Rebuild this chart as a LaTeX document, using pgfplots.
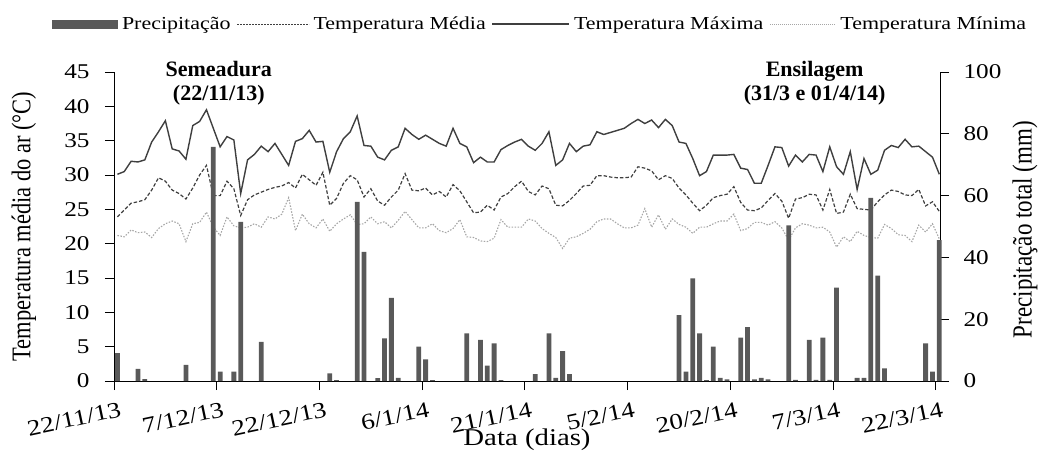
\documentclass[border=0pt]{standalone}
\usepackage{fontspec}
\setmainfont{Liberation Serif}[FakeStretch=1.2]
\newfontfamily\plainserif{Liberation Serif}
\usepackage{graphicx}
\usepackage{pgfplots}
\usepackage{pgfplotstable}
\pgfplotsset{compat=1.18}
\definecolor{barc}{HTML}{595959}
\definecolor{maxc}{HTML}{3F3F3F}
\definecolor{medc}{HTML}{3F3F3F}
\definecolor{minc}{HTML}{A6A6A6}
\pgfplotsset{
  legbar/.style={legend image code/.code={\fill[barc] (0pt,-4.5pt) rectangle (66pt,4.5pt);}},
  legline/.style={legend image code/.code={\draw[##1] (0pt,0pt) -- (#1,0pt);}},
}

\pgfplotstableread{
i tmax tmed tmin
0 30.1 23.9 21.2
1 30.5 24.9 21.0
2 32.0 25.9 22.0
3 31.9 26.1 21.6
4 32.2 26.4 21.7
5 34.8 27.8 20.9
6 36.3 29.6 22.2
7 37.9 29.1 22.9
8 33.8 27.8 23.3
9 33.5 27.3 22.9
10 32.3 26.5 20.3
11 37.2 28.1 22.9
12 37.8 30.0 23.1
13 39.5 31.4 24.6
14 36.8 27.0 22.4
15 34.1 27.0 21.2
16 35.6 29.1 23.9
17 35.1 28.0 22.6
18 27.3 24.1 22.3
19 32.2 26.4 22.4
20 33.0 27.1 22.9
21 34.2 27.5 22.4
22 33.4 27.9 23.9
23 34.6 28.2 23.6
24 33.0 28.4 24.3
25 31.4 28.9 26.7
26 34.9 28.1 21.9
27 35.3 30.1 24.3
28 36.5 29.3 22.9
29 34.8 28.5 22.3
30 34.9 30.4 23.6
31 30.4 25.6 21.8
32 33.4 26.6 22.9
33 35.3 28.8 23.6
34 36.3 29.9 24.2
35 38.6 29.3 22.8
36 34.3 26.8 22.9
37 34.2 28.0 23.9
38 32.6 26.2 22.9
39 32.2 25.6 23.2
40 33.6 26.8 22.3
41 34.1 27.8 23.4
42 36.8 30.2 24.7
43 35.9 27.8 23.5
44 35.2 27.7 22.3
45 35.8 28.1 22.3
46 35.2 27.1 22.9
47 34.6 27.6 21.9
48 34.2 26.8 21.6
49 36.8 28.6 22.2
50 34.6 27.7 23.5
51 34.1 26.1 21.0
52 31.8 24.5 20.9
53 32.6 24.6 20.4
54 31.9 25.6 20.3
55 31.9 24.9 20.8
56 33.7 26.8 23.5
57 34.3 27.3 22.4
58 34.8 28.3 22.4
59 35.2 29.1 22.4
60 34.2 27.6 23.6
61 33.6 27.1 23.3
62 34.6 28.4 22.2
63 36.3 28.0 21.5
64 31.4 25.6 20.9
65 32.2 25.5 19.3
66 34.6 26.3 20.8
67 33.4 27.3 21.0
68 34.2 28.4 21.5
69 34.4 28.5 22.1
70 36.3 29.9 23.2
71 35.9 29.9 23.6
72 36.2 29.7 23.6
73 36.5 29.6 22.9
74 36.8 29.6 22.3
75 37.5 29.7 22.3
76 38.1 31.2 22.7
77 37.5 31.0 25.1
78 38.0 30.6 22.4
79 36.9 29.3 24.2
80 38.1 29.9 22.1
81 37.2 29.5 23.6
82 34.8 28.1 22.8
83 34.6 27.1 22.4
84 32.4 25.9 21.5
85 29.9 24.8 22.4
86 30.5 25.6 22.4
87 32.9 26.7 22.9
88 32.9 27.0 23.3
89 32.9 27.2 23.3
90 33.0 28.3 24.3
91 31.0 26.0 21.9
92 30.8 24.9 22.2
93 28.8 24.8 23.1
94 28.8 25.2 23.1
95 31.4 26.3 22.7
96 34.1 27.3 23.2
97 34.0 26.2 22.3
98 31.3 23.7 20.5
99 32.9 26.5 22.3
100 31.9 26.7 22.9
101 33.0 27.2 22.7
102 32.9 27.1 22.3
103 30.5 24.9 22.4
104 34.1 27.9 21.7
105 31.2 24.4 19.5
106 30.1 24.6 21.0
107 33.4 27.2 20.3
108 27.9 25.1 21.8
109 32.4 25.0 21.2
110 30.1 24.9 20.9
111 30.7 26.1 20.8
112 33.6 27.1 22.8
113 34.3 27.8 22.2
114 34.0 27.6 21.3
115 35.2 27.1 21.2
116 34.1 27.0 20.3
117 34.2 27.9 22.7
118 33.4 25.5 21.7
119 32.6 26.1 22.9
120 30.1 24.7 20.7
}\temps

\pgfplotstableread{
i p
0 9.0
3 3.9
4 0.6
10 5.2
14 75.8
15 3.0
17 3.0
18 51.5
21 12.7
31 2.5
32 0.3
35 58.0
36 41.8
38 0.9
39 13.8
40 26.9
41 1.0
44 11.1
45 7.0
46 0.3
51 15.4
53 13.3
54 5.0
55 12.2
56 0.3
61 2.2
63 15.4
64 1.0
65 9.7
66 2.2
82 21.3
83 3.0
84 33.2
85 15.4
86 0.3
87 11.1
88 1.0
89 0.5
91 14.0
92 17.4
93 0.5
94 1.0
95 0.5
98 50.4
99 0.4
101 13.3
102 0.4
103 14.0
104 0.4
105 30.2
108 1.0
109 1.0
110 59.3
111 34.1
112 4.1
118 12.2
119 3.0
120 45.6
}\prec

\begin{document}
\begin{tikzpicture}
\useasboundingbox (0,0) rectangle (1040pt,456pt);
\begin{axis}[
  at={(114pt,75pt)}, anchor=south west,
  scale only axis, width=826pt, height=309pt,
  xmin=-0.5, xmax=120.1, ymin=0, ymax=45,
  axis x line*=bottom, axis y line*=left,
  axis line style={-, black, line width=1pt},
  tick align=outside, major tick length=9pt,
  tick style={black, line width=1pt},
  xtick={-0.5,14.5,29.5,44.5,59.5,74.5,89.5,104.5,119.5},
  xticklabels={22/11/13,7/12/13,22/12/13,6/1/14,21/1/14,5/2/14,20/2/14,7/3/14,22/3/14},
  xticklabel style={rotate=12, anchor=north east, font=\fontsize{22.5}{24}\selectfont, xshift=6pt, yshift=-9pt},
  ytick={0,5,...,45},
  yticklabel style={font=\fontsize{21}{24}\selectfont, /pgf/number format/assume math mode=true, xshift=-12pt},
  ylabel={\scalebox{1}[1.2]{Temperatura média do ar (°C)}},
  ylabel style={font=\plainserif\fontsize{22.5}{24}\selectfont, at={(axis description cs:-0.109,0.5)}, anchor=center},
  xlabel={Data (dias)},
  xlabel style={font=\fontsize{24}{26}\selectfont, at={(axis description cs:0.5,-0.19)}, anchor=center},
  clip=false,
]
\addplot[maxc, line width=1.4pt] table[x=i, y=tmax]{\temps};
\addplot[medc, line width=1.2pt, dash pattern=on 3.5pt off 2pt] table[x=i, y=tmed]{\temps};
\addplot[minc, line width=1.1pt, dash pattern=on 1.5pt off 1.5pt] table[x=i, y=tmin]{\temps};
\node[font=\plainserif\bfseries\fontsize{22}{24}\selectfont, align=center] at (axis cs:14.8,43.4) {Semeadura\\(22/11/13)};
\node[font=\plainserif\bfseries\fontsize{22}{24}\selectfont, align=center] at (axis cs:101.8,43.4) {Ensilagem\\(31/3 e 01/4/14)};
\end{axis}
\begin{axis}[
  at={(114pt,75pt)}, anchor=south west,
  scale only axis, width=826pt, height=309pt,
  xmin=-0.5, xmax=120.1, ymin=0, ymax=100,
  axis x line=none, axis y line*=right,
  axis line style={-, black, line width=1pt},
  tick align=outside, major tick length=9pt,
  tick style={black, line width=1pt},
  ytick={0,20,...,100},
  yticklabel style={font=\fontsize{21}{24}\selectfont, /pgf/number format/assume math mode=true, xshift=11pt},
  ylabel={\scalebox{1}[1.2]{Precipitação total (mm)}},
  ylabel style={font=\plainserif\fontsize{23}{24}\selectfont, at={(axis description cs:1.103,0.49)}, anchor=center},
  legend style={at={(axis description cs:0.517,1.155)}, anchor=center, draw=none, fill=none,
    inner xsep=0pt, nodes={inner xsep=4pt},
    font=\fontsize{18.3}{21}\selectfont, /tikz/every even column/.append style={column sep=2pt}},
  legend columns=-1,
  clip=false,
]
\addplot[ybar, bar width=0.7, fill=barc, draw=none, legbar]
  table[x=i, y=p]{\prec};
\addlegendentry{Precipitação}
\addlegendimage{medc, line width=1pt, dash pattern=on 2pt off 1pt, legline=72pt}
\addlegendentry{Temperatura Média}
\addlegendimage{maxc, line width=1.3pt, legline=77pt}
\addlegendentry{Temperatura Máxima}
\addlegendimage{minc, line width=1pt, dash pattern=on 1pt off 1pt, legline=66pt}
\addlegendentry{Temperatura Mínima}
\end{axis}
\end{tikzpicture}
\end{document}
